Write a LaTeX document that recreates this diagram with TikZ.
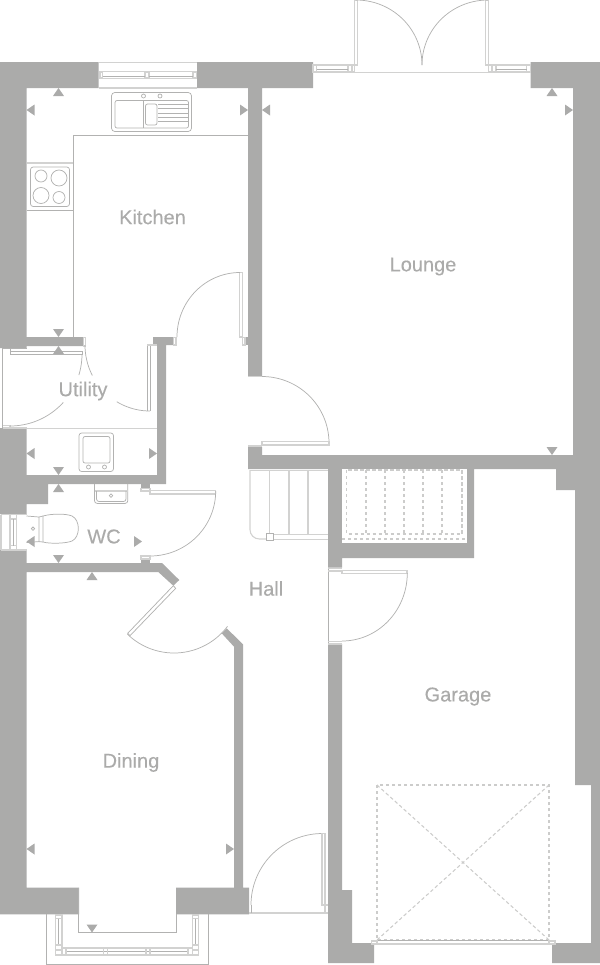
\documentclass[tikz,border=0pt]{standalone}
\usepackage{fontspec}
\setmainfont[FakeBold=0.3]{Liberation Sans}
\definecolor{wallc}{HTML}{ABABAA}
\definecolor{linec}{HTML}{B2B2B1}
\definecolor{lightc}{HTML}{D2D2D1}
\tikzset{
  wall/.style={fill=wallc,draw=none},
  fine/.style={draw=linec,line width=0.55pt},
  soft/.style={draw=lightc,line width=0.8pt},
  dashline/.style={draw=lightc!80!linec,line width=0.8pt,dash pattern=on 2.6pt off 1.9pt},
  room/.style={text=wallc,font=\fontsize{15}{18}\selectfont,inner sep=0pt},
  hmark/.style={fill=wallc,draw=none}
}
\newcommand{\swing}[6]{\draw[fine] plot[domain=#5:#6,samples=50] ({#1+#3*cos(\x)},{#2+#4*sin(\x)});}
\newcommand{\triU}[2]{\fill[hmark] (#1,#2) -- ++(5.5,8) -- ++(-11,0) -- cycle;}
\newcommand{\triD}[2]{\fill[hmark] (#1,#2) -- ++(5.5,-8) -- ++(-11,0) -- cycle;}
\newcommand{\triL}[2]{\fill[hmark] (#1,#2) -- ++(8,5.5) -- ++(0,-11) -- cycle;}
\newcommand{\triR}[2]{\fill[hmark] (#1,#2) -- ++(-8,5.5) -- ++(0,-11) -- cycle;}
\begin{document}
\begin{tikzpicture}[x=0.75pt,y=-0.75pt]
\useasboundingbox (0,0) rectangle (600,965);
% ---- walls
\fill[wall] (0,62)--(98.5,62)--(98.5,88)--(26.5,88)--(26.5,337)--(83,337)--(83,346)--(26.5,346)--(26.5,348)--(0,348)--cycle;
\fill[wall] (197,62)--(313,62)--(313,88)--(262,88)--(262,376)--(248,376)--(248,88)--(197,88)--cycle;
\fill[wall] (530.5,62)--(600,62)--(600,963)--(552,963)--(552,943)--(591,943)--(591,785)--(575,785)--(575,490)--(556,490)--(556,469)--(474,469)--(474,558)--(342,558)--(342,567.5)--(328,567.5)--(328,469)--(248,469)--(248,447)--(262,447)--(262,455)--(573,455)--(573,88)--(530.5,88)--cycle;
\fill[white] (342,469) rectangle (467,542.7);
\fill[wall] (328,644)--(342,644)--(342,890)--(352,890)--(352,943)--(374,943)--(374,963)--(328,963)--cycle;
\fill[wall] (153,337)--(173,337)--(173,345)--(166,345)--(166,484)--(48,484)--(48,504)--(26.5,504)--(26.5,514)--(0,514)--(0,428)--(26.5,428)--(26.5,475)--(157,475)--(157,345)--(153,345)--cycle;
\fill[wall] (0,550)--(26.5,550)--(26.5,563)--(162,563)--(179.3,580)--(173.3,585.7)--(158.3,572)--(26.5,572)--(26.5,887.7)--(79,887.7)--(79,914.3)--(0,914.3)--cycle;
\fill[wall] (221.7,633.3)--(226.7,628.3)--(243,644.3)--(243,887.7)--(249,887.7)--(249,914.3)--(176,914.3)--(176,887.7)--(234,887.7)--(234,646.7)--cycle;
\fill[wall] (141,484) rectangle (150,488.5);
\fill[wall] (141,559) rectangle (150,563);
\fill[wall] (245,337) rectangle (248,345);
% ---- top kitchen window
\draw[soft] (98.5,62.5)--(197,62.5) (98.5,88)--(197,88);
\draw[soft] (100,72) rectangle (102.5,78) (145,72) rectangle (149,78) (193,72) rectangle (196.5,78);
\draw[soft] (102.5,71.5)--(193,71.5);
\draw[fine] (102.5,76)--(145,76) (149,76)--(193,76);
\draw[soft] (102.5,78.5)--(193,78.5);
% ---- sink
\draw[fine,rounded corners=2.5pt] (111.5,92.5) rectangle (191.5,131.5);
\draw[fine,rounded corners=1.5pt] (115,100.5) rectangle (188.5,128);
\draw[fine] (143,100.5)--(143,128);
\draw[fine,rounded corners=1.5pt] (145.5,104) rectangle (157,125);
\draw[fine] (158,104)--(188,104) (158,108.7)--(188,108.7) (158,113)--(188,113) (158,117.3)--(188,117.3) (158,121.7)--(188,121.7);
\draw[fine] (143.5,96) circle[radius=2] (160,96) circle[radius=2];
% ---- kitchen worktop and hob
\draw[fine] (73,337)--(73,135.5)--(248,135.5);
\draw[soft] (26.5,163)--(73,163);
\draw[fine] (26.5,210)--(73,210);
\draw[fine,rounded corners=2pt] (30.5,167) rectangle (69.5,206.5);
\draw[fine] (41,176) circle[radius=6] (59,178) circle[radius=8] (41,195.5) circle[radius=8] (59,197.5) circle[radius=6];
% ---- patio doors and lounge windows
\draw[soft] (354,72.5)--(489,72.5);
\draw[soft] (354.5,72)--(354.5,0.5)--(357.5,0.5)--(357.5,65)--(354.5,65);
\draw[soft] (488.5,72)--(488.5,0.5)--(485.5,0.5)--(485.5,65)--(488.5,65);
\swing{356}{65}{66}{65}{-90}{0}
\swing{488}{65}{66}{65}{180}{270}
\draw[soft] (313,65)--(354,65) (489,65)--(530.5,65) (313,72)--(354,72) (489,72)--(530.5,72);
\draw[soft] (313,65) rectangle (316.5,72) (348,65) rectangle (352,72) (492,65) rectangle (496,72) (526.5,65) rectangle (530.5,72);
\draw[fine] (316.5,69)--(348,69) (496,69)--(526.5,69);
% ---- kitchen-hall door
\draw[soft] (239.5,272.5) rectangle (242.5,337);
\draw[soft] (242.5,337.5) rectangle (245,345);
\draw[soft] (173.5,337.5) rectangle (176,345);
\swing{240}{337}{63}{64.5}{180}{270}
% ---- lounge door
\draw[soft] (248,376.5)--(262,376.5);
\swing{262}{443}{67}{66.5}{-90}{0}
\draw[soft] (262,441.5) rectangle (329,445);
\draw[soft] (248,446)--(262,446);
% ---- utility
\draw[soft] (83.5,337.5) rectangle (85.5,346);
\draw[fine] (147.3,411)--(147.3,345) (150,411)--(150,345);
\draw[soft] (147.3,345)--(157,345);
\draw[fine] (2.7,348)--(2.7,428) (2.7,348.5)--(26.5,348.5);
\draw[fine] (10,348.5)--(10,354.5)--(82,354.5) (10,351.5)--(82,351.5)--(82,354.5);
\draw[soft] (2.7,425.5)--(10,425.5) (2.7,428)--(26.5,428) (10,425)--(10,428);
\swing{10}{354}{72}{72}{0}{17}
\swing{10}{354}{72}{72}{42.3}{90}
\swing{150}{345}{65}{66}{90}{120.7}
\swing{150}{345}{65}{66}{152.5}{180}
\draw[soft] (26.5,428.5)--(157,428.5);
\draw[fine,rounded corners=2pt] (79,433) rectangle (113.5,471.5);
\draw[fine,rounded corners=1.5pt] (83,436.5) rectangle (110,463);
\draw[fine] (88.5,467) circle[radius=2] (104.5,467) circle[radius=2];
% ---- WC
\draw[fine,rounded corners=2pt] (94.5,484)--(94.5,503.4)--(127.8,503.4)--(127.8,484);
\draw[soft] (94.5,491)--(127.8,491);
\draw[fine,rounded corners=2pt] (96.5,491)--(96.5,501.6)--(126,501.6)--(126,491);
\draw[fine] (111,495.6) circle[radius=1.7];
\draw[fine] (33,528.7) circle[radius=1.7];
\draw[fine] (26.5,516)--(39,517)--(39,541.6)--(26.5,542.5);
\draw[fine] (39,517)--(43,516) (39,541.6)--(43,542);
\draw[fine] (43,516) .. controls (52,513.5) and (66,513.5) .. (72,516) .. controls (80.5,520) and (80.5,537) .. (72,541) .. controls (66,543.5) and (50,544) .. (43,542) -- cycle;
\draw[soft] (1,514.5)--(26.5,514.5) (1,550)--(26.5,550) (1,514.5)--(1,550);
\draw[soft] (10,514.5)--(10,550) (16.5,514.5)--(16.5,550);
\draw[soft] (10,519)--(16.5,519) (10,545.5)--(16.5,545.5);
\draw[fine] (13,519)--(13,545.5);
\draw[soft] (141,488.5) rectangle (150,491);
\draw[soft] (150,490.5) rectangle (215.7,494);
\swing{150}{491}{65.7}{65}{0}{90}
\draw[soft] (141,556) rectangle (150,559);
% ---- dining door
\draw[fine] (175.7,588.3)--(173.3,585.7)--(127.7,633.3)--(130,635.7)--cycle;
\swing{174}{586}{67}{67}{37}{134}
% ---- bay window
\draw[fine] (46,914.3)--(46,964)--(208.5,964)--(208.5,914.3);
\draw[fine] (78.7,887.7)--(78.7,932.4)--(176.3,932.4)--(176.3,914.3);
\draw[soft] (55.5,915) rectangle (62,950) (192.2,915) rectangle (198.7,950);
\draw[soft] (55.5,915) rectangle (62,918.5) (192.2,915) rectangle (198.7,918.5);
\draw[fine] (58.7,918.5)--(58.7,945) (195.4,918.5)--(195.4,945);
\draw[soft] (55.5,945) rectangle (62,955) (192.2,945) rectangle (198.7,955);
\draw[soft] (62,948) rectangle (192.2,955);
\draw[fine] (66,951.5)--(188.5,951.5);
\draw[soft] (62,948) rectangle (66,955) (103.5,948) rectangle (107.5,955) (146,948) rectangle (150,955) (188,948) rectangle (192.2,955);
% ---- front door
\draw[soft] (249,913)--(328,913);
\draw[fine] (251,913)--(251,905);
\swing{322.5}{905}{71.5}{71.5}{180}{270}
\draw[soft] (322,833.5)--(325,833.5)--(325,905)--(322,905)--cycle (325,905)--(328,905) (325,905)--(325,913);
% ---- stairs
\draw[soft,rounded corners=7pt] (266,539)--(250,539)--(250,470);
\draw[soft] (250,470.5)--(328,470.5);
\draw[soft] (269.7,470.5)--(269.7,534) (289,470.5)--(289,534) (308,470.5)--(308,534);
\draw[soft] (274,534.3)--(328,534.3) (274,539.2)--(328,539.2);
\draw[fine] (266.5,533.5) rectangle (273.5,540.5);
% ---- under-stairs store
\draw[dashline] (346.5,470) rectangle (462,534);
\draw[dashline] (342,539)--(467,539);
\draw[dashline] (366,470)--(366,534) (385,470)--(385,534) (404,470)--(404,534) (423,470)--(423,534) (442,470)--(442,534);
% ---- garage side door
\draw[fine] (328,567.5)--(328,644);
\draw[soft] (328,568.5)--(342,568.5) (328,571)--(342,571);
\draw[soft] (342,571)--(342,573.5)--(407,573.5)--(407,570.5)--(342,570.5);
\draw[soft] (328,641.5)--(342,641.5) (328,644)--(342,644);
\swing{342}{573}{65.3}{68}{0}{90}
% ---- garage door
\draw[dashline] (377,785) rectangle (549,940);
\draw[dashline] (377,785)--(549,940) (549,785)--(377,940);
\draw[fine] (374,940.5)--(552,940.5);
\draw[soft] (374,944)--(552,944);
\draw[soft] (371.5,941) rectangle (377,944) (549,941) rectangle (555,944);
% ---- wall height markers
\triU{58.5}{88} \triL{26.5}{110} \triR{248}{110} \triL{262}{110}
\triU{552}{88} \triR{573}{110} \triD{552}{455}
\triD{58.5}{337} \triU{58.5}{346} \triL{26.5}{453.5} \triR{157}{453.5} \triD{58.5}{475}
\triU{58.5}{484} \triL{26.5}{541.5} \triR{142}{541.5} \triD{58.5}{563}
\triU{92}{572} \triL{26.5}{849} \triR{234}{849} \triD{92}{932.5}
% ---- room names
\node[room] (kitchen) at (152.5,217) {Kitchen};
\node[room] (lounge) at (423,266.5) {Lounge};
\node[room] (utility) at (83,391) {Utility};
\node[room] (wc) at (104,536.5) {WC};
\node[room] (hall) at (266,588.5) {Hall};
\node[room] (garage) at (458,696.5) {Garage};
\node[room] (dining) at (131,762.5) {Dining};
\end{tikzpicture}
\end{document}
